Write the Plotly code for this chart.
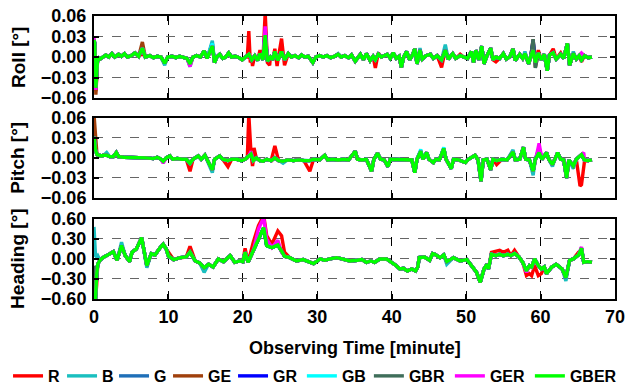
import plotly.graph_objects as go

# ---------------- data ----------------
series_names = ["R", "B", "G", "GE", "GR", "GB", "GBR", "GER", "GBER"]
series_colors = ["#FF0000", "#1ABFBF", "#1F6FB8", "#A0400C", "#0000FF",
                 "#00FFFF", "#3F6E5A", "#FF00FF", "#00FF00"]

# Roll: common curve (minutes, degrees)
roll_t = [0.0, 0.1, 0.25, 0.4, 0.5, 0.8, 1.2, 1.6, 2.0, 2.4, 2.8, 3.3, 3.7, 4.1, 4.5, 5.0, 5.5, 6.0, 6.5, 6.9,
          7.5, 8.0, 8.5, 9.0, 9.5, 9.9, 10.5, 11.0, 11.5, 12.0, 12.5, 12.9, 13.3, 13.8, 14.3, 14.8, 15.2, 15.9,
          16.2, 16.5, 16.9, 17.3, 17.7, 18.1, 18.5, 19.0, 19.5, 19.9, 20.3, 20.8, 21.2, 21.6, 22.0, 22.3, 22.7,
          23.0, 23.3, 23.7, 24.0, 24.3, 24.7, 25.2, 25.6, 26.1, 26.5, 27.0, 27.5, 27.9, 28.3, 28.8, 29.4, 29.8,
          30.3, 30.8, 31.3, 31.8, 32.3, 32.8, 33.2, 33.7, 34.2, 34.6, 35.1, 35.5, 35.8, 36.2, 36.6, 37.1, 37.5,
          37.8, 38.2, 38.6, 39.0, 39.4, 39.8, 40.2, 40.6, 41.0, 41.3, 41.6, 42.0, 42.4, 42.8, 43.1, 43.4, 43.8,
          44.1, 44.6, 45.2, 45.6, 46.1, 46.7, 47.2, 47.6, 48.2, 48.6, 49.2, 49.7, 50.2, 50.7, 51.0, 51.3, 51.7,
          52.1, 52.4, 52.8, 53.3, 53.6, 54.0, 54.5, 55.0, 55.4, 55.9, 56.3, 56.6, 57.2, 57.6, 57.9, 58.4, 58.7,
          59.0, 59.3, 59.7, 60.1, 60.5, 60.9, 61.2, 61.7, 62.1, 62.7, 63.1, 63.6, 63.9, 64.4, 64.8, 65.2, 65.5,
          65.9, 66.4, 66.9]
roll_v = [0.025, 0.02, -0.045, -0.01, 0.0, -0.003, 0.0, 0.003, 0.0, 0.005, 0.0, 0.004, 0.001, 0.005, 0.0, 0.002,
          0.006, 0.001, 0.013, 0.0, 0.002, -0.001, 0.001, 0.0, -0.009, 0.0, 0.001, -0.001, 0.001, 0.0, -0.002,
          -0.01, 0.0, 0.002, 0.0, 0.009, -0.002, 0.016, -0.008, 0.0, 0.004, -0.002, 0.0, 0.006, 0.0, 0.001,
          -0.001, -0.004, 0.0, 0.004, -0.004, 0.002, -0.005, 0.005, -0.004, 0.032, -0.006, 0.0, -0.004, 0.008,
          -0.005, 0.008, -0.004, 0.005, 0.0, 0.002, -0.001, 0.003, 0.0, 0.001, -0.008, 0.0, 0.002, 0.0, 0.002,
          -0.001, 0.001, 0.004, 0.0, 0.002, -0.001, 0.003, -0.006, 0.001, 0.004, -0.004, 0.005, -0.005, 0.001,
          -0.004, 0.004, 0.0, 0.002, 0.004, -0.002, 0.006, -0.002, 0.001, -0.015, 0.0, 0.008, -0.004, 0.003,
          0.012, -0.01, 0.01, -0.003, 0.002, 0.004, -0.002, 0.002, -0.004, 0.01, -0.003, 0.005, -0.002, 0.002,
          0.0, -0.002, 0.008, -0.008, 0.01, -0.004, 0.016, -0.01, 0.002, 0.013, -0.004, 0.0, -0.002, 0.005,
          -0.003, 0.001, 0.012, -0.005, 0.004, -0.002, 0.005, -0.01, 0.002, 0.01, -0.008, 0.006, -0.004, 0.004,
          -0.02, 0.003, 0.006, -0.003, 0.004, -0.002, 0.02, -0.012, 0.005, -0.003, 0.002, -0.004, 0.002, -0.001,
          0.0]
# Roll: where a series departs visibly from the common curve
roll_R = {0.25: -0.05, 6.5: 0.005, 12.9: -0.012, 20.6: 0.0, 20.8: 0.038, 21.0: -0.008, 21.3: -0.013,
          22.3: 0.01, 23.0: 0.065, 23.3: -0.008, 23.6: -0.012, 24.3: 0.012, 24.6: -0.013, 25.2: 0.027,
          25.6: -0.012, 37.8: -0.016, 38.2: 0.006, 46.7: -0.015, 49.2: 0.004, 54.0: -0.007, 59.7: 0.01,
          61.7: 0.012, 62.7: 0.006, 65.5: -0.007}
roll_B = {0.25: -0.04, 9.5: -0.012, 12.9: -0.014, 15.9: 0.024, 32.8: 0.005, 43.8: 0.013, 47.2: 0.018,
          57.9: 0.008, 64.4: 0.008}
roll_G = {15.9: 0.02, 59.0: 0.022}
roll_GE = {0.25: -0.055, 6.5: 0.022, 59.0: 0.026, 59.3: -0.015}
roll_GR = {23.0: 0.04, 59.0: 0.024}
roll_GB = {0.25: -0.04, 15.9: 0.02}
roll_GBR = {59.0: 0.026, 59.3: -0.016}
roll_GER = {0.0: 0.028, 0.25: -0.048, 12.9: -0.014, 23.0: 0.045, 65.5: 0.006}
roll_GBER = {}

# Pitch
pitch_t = [0.0, 0.2, 0.4, 0.7, 1.0, 1.3, 1.7, 2.1, 2.6, 3.0, 3.3, 4.0, 5.0, 6.0, 7.0, 8.0, 8.5, 9.0, 9.3, 9.7,
           10.2, 10.6, 11.2, 11.8, 12.4, 12.9, 13.3, 14.0, 14.4, 14.9, 15.2, 15.9, 16.2, 16.9, 17.3, 18.0, 18.5,
           19.2, 19.8, 20.3, 20.8, 21.1, 21.4, 21.8, 22.3, 22.7, 23.2, 23.8, 24.3, 24.8, 25.4, 26.0, 26.8, 27.5,
           28.2, 29.0, 29.5, 30.3, 31.0, 31.4, 32.0, 32.8, 33.5, 34.2, 35.1, 35.4, 36.0, 36.6, 37.3, 37.6, 38.1,
           38.5, 39.0, 39.5, 39.8, 40.5, 41.3, 42.0, 42.7, 43.1, 43.4, 43.9, 44.2, 44.7, 45.0, 45.6, 45.9, 46.4,
           47.0, 47.3, 48.0, 48.3, 49.0, 49.9, 50.3, 51.2, 51.6, 52.0, 52.3, 52.8, 53.3, 53.6, 54.1, 54.8, 55.5,
           56.3, 56.6, 57.2, 57.7, 58.0, 58.5, 59.0, 59.3, 59.8, 60.2, 60.8, 61.1, 61.6, 61.9, 62.3, 62.7, 63.1,
           63.5, 63.8, 64.4, 64.8, 65.5, 65.9, 66.4, 66.9]
pitch_v = [0.032, 0.012, 0.005, 0.004, 0.003, 0.004, 0.004, 0.002, 0.002, 0.008, 0.002, 0.001, 0.001, 0.0, 0.0,
           -0.001, 0.001, -0.002, -0.005, 0.0, 0.003, -0.002, -0.001, -0.002, -0.002, -0.008, -0.002, 0.003,
           -0.002, 0.004, -0.003, -0.018, -0.002, 0.003, -0.002, -0.004, -0.002, -0.002, -0.004, -0.002, 0.003,
           0.006, -0.004, 0.0, -0.004, -0.005, -0.002, -0.004, 0.0, -0.004, -0.005, -0.003, -0.004, -0.003,
           -0.004, -0.004, -0.002, -0.003, 0.004, -0.003, -0.002, -0.003, -0.002, -0.003, 0.01, -0.002, -0.003,
           -0.002, -0.02, -0.002, 0.007, -0.002, -0.003, -0.013, -0.002, -0.002, -0.003, -0.002, -0.003, -0.022,
           -0.002, 0.01, -0.002, 0.008, -0.002, -0.007, -0.002, -0.003, 0.014, -0.002, -0.016, -0.002, -0.003,
           -0.007, -0.002, 0.004, -0.003, -0.035, -0.003, -0.002, -0.018, -0.002, -0.004, -0.002, -0.003, 0.009,
           -0.003, -0.002, 0.016, -0.002, -0.003, -0.02, -0.002, 0.008, -0.002, 0.008, -0.002, -0.01, -0.002,
           0.008, -0.002, -0.003, -0.03, -0.003, -0.012, -0.002, 0.005, -0.003, -0.004, -0.003]
pitch_R = {12.9: -0.02, 18.0: -0.013, 20.6: 0.0, 20.8: 0.065, 21.0: 0.025, 21.3: -0.012, 21.5: 0.015,
           24.3: 0.018, 29.0: -0.02, 48.0: -0.015, 54.1: -0.01, 65.3: -0.042, 65.5: -0.04, 65.9: -0.005}
pitch_B = {0.0: 0.036, 1.7: 0.008, 15.9: -0.022, 25.4: -0.008, 56.3: 0.012, 59.0: -0.026, 61.6: -0.013,
           63.5: -0.028, 64.4: -0.016}
pitch_G = {}
pitch_GE = {0.0: 0.065, 0.2: 0.03}
pitch_GR = {59.8: 0.015}
pitch_GB = {43.9: 0.013, 47.0: 0.016}
pitch_GBR = {}
pitch_GER = {9.3: -0.008, 21.1: 0.01, 59.8: 0.022, 65.8: 0.008}
pitch_GBER = {}

# Heading
head_t = [0.0, 0.2, 0.35, 0.5, 0.8, 1.2, 1.7, 2.2, 2.6, 3.1, 3.7, 4.2, 4.8, 5.1, 5.7, 6.4, 7.1, 7.7, 8.2, 8.9,
          9.3, 9.7, 10.0, 10.7, 11.2, 11.6, 12.4, 12.9, 13.6, 14.2, 14.8, 15.4, 16.0, 16.7, 17.4, 18.3, 18.9,
          19.6, 20.0, 20.3, 20.7, 21.4, 22.1, 22.8, 23.2, 23.9, 24.7, 25.2, 25.6, 26.3, 27.2, 28.1, 28.6, 29.5,
          30.4, 31.0, 31.7, 32.6, 33.3, 34.4, 35.4, 36.0, 36.6, 37.2, 37.7, 38.4, 39.3, 40.0, 40.6, 41.1, 41.6,
          42.1, 42.7, 43.2, 43.5, 43.7, 44.4, 45.1, 45.5, 45.8, 46.5, 47.0, 47.4, 48.3, 49.2, 50.1, 50.7, 51.4,
          51.9, 52.4, 52.8, 53.0, 53.4, 54.0, 54.5, 55.0, 55.6, 56.0, 56.5, 57.1, 57.6, 58.1, 58.5, 58.8, 59.2,
          59.7, 60.1, 60.5, 60.8, 61.5, 62.1, 62.9, 63.4, 63.9, 64.4, 65.1, 65.5, 65.8, 66.3, 66.9]
head_v = [-0.6, -0.6, -0.25, -0.08, -0.02, 0.02, 0.05, 0.08, 0.11, -0.02, 0.2, 0.05, -0.04, 0.1, 0.15, 0.32,
          -0.1, 0.08, 0.06, 0.17, 0.22, 0.15, 0.04, -0.01, 0.01, 0.02, 0.03, 0.1, -0.03, -0.06, -0.13, -0.08,
          -0.12, 0.0, -0.04, 0.05, -0.05, -0.03, -0.04, 0.1, -0.05, 0.12, 0.3, 0.47, 0.2, 0.17, 0.21, 0.1, 0.04,
          0.02, -0.03, -0.01, -0.03, -0.07, 0.0, -0.02, 0.0, 0.02, 0.0, -0.03, -0.02, -0.01, -0.05, -0.03, -0.05,
          0.0, 0.0, -0.05, -0.1, -0.15, -0.14, -0.18, -0.15, -0.18, -0.12, 0.02, 0.03, -0.02, 0.08, 0.07, 0.02,
          0.06, -0.04, 0.02, -0.03, -0.01, -0.1, -0.2, -0.35, -0.15, -0.08, -0.15, 0.07, 0.05, 0.07, 0.05, 0.07,
          0.05, 0.08, 0.03, -0.05, -0.18, -0.1, -0.12, 0.0, -0.1, -0.15, -0.12, -0.22, -0.12, -0.08, -0.15,
          -0.28, -0.02, 0.0, 0.06, 0.16, -0.05, -0.04, -0.05]
head_R = {0.35: -0.4, 10.0: 0.1, 12.9: 0.19, 20.3: 0.16, 21.4: 0.25, 22.1: 0.5, 22.8: 0.65, 23.2: 0.35,
          23.9: 0.22, 24.7: 0.42, 25.2: 0.35, 25.6: 0.1, 53.4: 0.1, 54.0: 0.12, 54.5: 0.13, 55.0: 0.1,
          55.6: 0.13, 56.5: 0.13, 58.1: -0.25, 58.5: -0.22, 58.8: -0.25, 59.2: -0.1, 59.7: -0.25, 60.1: -0.22,
          65.1: 0.1, 65.5: 0.13}
head_B = {0.0: 0.48, 0.2: 0.05, 0.35: 0.03, 0.5: 0.05, 3.7: 0.25, 7.1: -0.13, 14.8: -0.2, 47.4: -0.08,
          63.4: -0.33}
head_G = {}
head_GE = {10.0: 0.08, 12.9: 0.13}
head_GR = {}
head_GB = {}
head_GBR = {0.0: -0.1}
head_GER = {22.1: 0.45, 22.8: 0.62, 23.2: 0.3, 24.7: 0.28, 58.1: -0.2, 65.5: 0.18}
head_GBER = {}

roll_over = [roll_R, roll_B, roll_G, roll_GE, roll_GR, roll_GB, roll_GBR, roll_GER, roll_GBER]
pitch_over = [pitch_R, pitch_B, pitch_G, pitch_GE, pitch_GR, pitch_GB, pitch_GBR, pitch_GER, pitch_GBER]
head_over = [head_R, head_B, head_G, head_GE, head_GR, head_GB, head_GBR, head_GER, head_GBER]

x_ticks = [0, 10, 20, 30, 40, 50, 60, 70]


def build(base_t, base_v, over):
    pts = dict(zip(base_t, base_v))
    pts.update(over)
    ks = sorted(pts)
    return ks, [pts[k] for k in ks]


# ---------------- figure ----------------
FONT = "Liberation Sans, Arial, sans-serif"
fig = go.Figure()

# legend entry slots (px) and which legend box each entry sits in
legend_slot = [9, 7, 9, 20, 24, 22, 36, 35, 46]
legend_box = ["legend"] * 5 + ["legend2"] * 4

panels = [("y", roll_t, roll_v, roll_over), ("y2", pitch_t, pitch_v, pitch_over),
          ("y3", head_t, head_v, head_over)]
for pi, (yref, bt, bv, overs) in enumerate(panels):
    for i, name in enumerate(series_names):
        xs, ys = build(bt, bv, overs[i])
        fig.add_trace(go.Scatter(
            x=xs, y=ys, mode="lines", name=name, legendgroup=name,
            showlegend=(pi == 0), legend=legend_box[i], legendwidth=legend_slot[i],
            line=dict(color=series_colors[i], width=3.4),
            xaxis="x" if pi == 0 else ("x2" if pi == 1 else "x3"), yaxis=yref))

tickfont = dict(family=FONT, size=18, color="black", weight="bold")
common_x = dict(range=[0, 70], tickvals=x_ticks, showgrid=True, gridcolor="black", griddash="dash",
                gridwidth=1, zeroline=False, showline=True, linecolor="black", linewidth=2,
                mirror="allticks", ticks="inside", ticklen=5, tickcolor="black", tickwidth=1.5,
                tickfont=tickfont)
common_y = dict(showgrid=True, gridcolor="#666666", griddash="dash", gridwidth=1, zeroline=False,
                showline=True, linecolor="black", linewidth=2, mirror="allticks", ticks="inside",
                ticklen=5, tickcolor="black", tickwidth=1.5, tickfont=tickfont, ticklabelstandoff=2)

d_roll = [0.710, 1.0]
d_pitch = [0.357, 0.640]
d_head = [0.0, 0.283]

legend_font = dict(family=FONT, size=16, color="black", weight="bold")
fig.update_layout(
    width=627, height=385,
    margin=dict(l=94, r=12, t=16, b=86, autoexpand=False),
    paper_bgcolor="white", plot_bgcolor="white",
    showlegend=True,
    legend=dict(orientation="h", x=-0.165, xanchor="left", y=-0.272, yanchor="middle",
                font=legend_font, bgcolor="rgba(0,0,0,0)", tracegroupgap=0, borderwidth=0),
    legend2=dict(orientation="h", x=0.399, xanchor="left", y=-0.272, yanchor="middle",
                 font=legend_font, bgcolor="rgba(0,0,0,0)", tracegroupgap=0, borderwidth=0),
    xaxis=dict(domain=[0, 1], anchor="y", showticklabels=False, **common_x),
    xaxis2=dict(domain=[0, 1], anchor="y2", showticklabels=False, matches="x", **common_x),
    xaxis3=dict(domain=[0, 1], anchor="y3", showticklabels=True, matches="x", **common_x),
    yaxis=dict(domain=d_roll, anchor="x", range=[-0.06, 0.06],
               tickvals=[-0.06, -0.03, 0.0, 0.03, 0.06], tickformat=".2f", **common_y),
    yaxis2=dict(domain=d_pitch, anchor="x2", range=[-0.06, 0.06],
                tickvals=[-0.06, -0.03, 0.0, 0.03, 0.06], tickformat=".2f", **common_y),
    yaxis3=dict(domain=d_head, anchor="x3", range=[-0.6, 0.6],
                tickvals=[-0.6, -0.3, 0.0, 0.3, 0.6], tickformat=".2f", **common_y),
)

title_font = dict(family=FONT, size=19, color="black", weight="bold")
for text, yc in [("Roll [°]", sum(d_roll) / 2), ("Pitch [°]", sum(d_pitch) / 2),
                 ("Heading [°]", sum(d_head) / 2)]:
    fig.add_annotation(text=text, xref="paper", yref="paper", x=-0.146, y=yc, xanchor="center",
                       yanchor="middle", textangle=-90, showarrow=False, font=title_font)

fig.add_annotation(text="Observing Time [minute]", xref="paper", yref="paper", x=0.5, y=-0.173,
                   xanchor="center", yanchor="middle", showarrow=False,
                   font=dict(family=FONT, size=18, color="black", weight="bold"))

# the page's default 8px body margin would push the 627x385 figure out of the window
fig.write_html("out.html", config={"displayModeBar": False},
               post_script="document.body.style.margin='0px';")
